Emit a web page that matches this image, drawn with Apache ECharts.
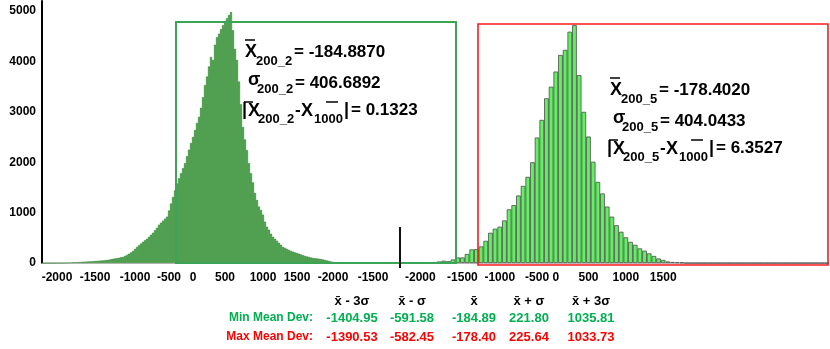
<!DOCTYPE html>
<html><head><meta charset="utf-8">
<script src="https://cdn.jsdelivr.net/npm/echarts@6/dist/echarts.min.js"></script>
<style>html,body{margin:0;padding:0;background:#fff}#c{width:830px;height:349px}</style>
</head><body><div id="c"></div>
<script>
// ---------- data ----------
const leftCounts = [
  0,0,0,0,0,0,2,3,3,5,
  4,6,8,10,12,14,15,17,20,22,
  24,25,28,30,33,36,38,42,45,48,
  52,56,60,66,74,82,90,96,104,112,
  120,140,160,185,210,240,280,320,350,385,
  420,450,480,520,560,600,650,700,760,800,
  840,880,920,1040,1180,1310,1440,1580,1680,1780,
  1880,1980,2120,2250,2380,2500,2640,2780,2900,3080,
  3290,3530,3700,3900,4090,4030,4330,4480,4550,4640,
  4720,4780,4860,4920,4980,4620,4250,4030,3600,3150,
  2700,2450,2240,1980,1780,1600,1390,1250,1120,1050,
  960,820,720,660,580,520,480,440,400,360,
  320,300,280,260,240,225,210,200,185,170,
  155,140,130,120,110,100,95,90,85,80,
  70,60,50,40,30,20,10,6,0,0,
  0,0,0,0,0,0,0,0,0,0,
  0,0,0,0,0,0,0,0,0,0,
  0,0,0,0,0,0,0,0,0,0,
  0
];
const leftTickLabels = ['-2000','-1500','-1000','-500','0','500','1000','1500','-2000','-1500'];
const leftTickBins   = [7, 26, 46, 63, 75, 91, 110, 127, 145, 165];

const rightCounts = [
  0,0,0,0,
  10,15,20,30,45,35,70,110,110,180,
  270,275,330,440,600,680,720,845,1065,1150,
  1340,1530,1710,2000,2490,2840,3270,3500,3800,4130,
  4230,4590,4720,3730,3000,2510,2010,1610,1380,1120,
  920,750,620,510,420,360,290,245,190,140,
  90,60,30,20,15,10,
  0,0,0,0,0,0,0,0,0,0,
  0,0,0,0,0,0,0,0,0,0,
  0,0,0,0,0,0,0,0,0,0,0
];
const rightTickLabels = ['-2000','-1500','-1000','-500','0','500','1000','1500'];
const rightTickBins   = [3, 12, 20, 28, 32, 39, 47, 55];

const yMin = 0, yMax = 5200, yStep = 1000;

const statHeaders = ['x\u0304 - 3\u03c3', 'x\u0304 - \u03c3', 'x\u0304', 'x\u0304 + \u03c3', 'x\u0304 + 3\u03c3'];
const rowLabels   = ['Min Mean Dev:', 'Max Mean Dev:'];
const minMeanDev  = ['-1404.95', '-591.58', '-184.89', '221.80', '1035.81'];
const maxMeanDev  = ['-1390.53', '-582.45', '-178.40', '225.64', '1033.73'];

const leftStats  = ['200_2', '-184.8870', '406.6892', '0.1323'];
const rightStats = ['200_5', '-178.4020', '404.0433', '6.3527'];
const refSub = '1000';

// ---------- helpers ----------
const FONT = '"Liberation Sans", Arial, sans-serif';
function txt(x, y, s, size, color, align) {
  return { type: 'text', x: x, y: y, z: 100, silent: true,
    style: { text: s, font: 'bold ' + size + 'px ' + FONT, fill: color || '#000',
             textAlign: align || 'left', textVerticalAlign: 'middle' } };
}
function ln(x1, y1, x2, y2, color, w) {
  return { type: 'line', z: 100, silent: true, shape: { x1: x1, y1: y1, x2: x2, y2: y2 },
           style: { stroke: color || '#000', lineWidth: w || 1.5 } };
}
function labelMap(labels, bins) {
  const m = {};
  bins.forEach((b, i) => { m[b] = labels[i]; });
  return m;
}
const leftMap = labelMap(leftTickLabels, leftTickBins);
const rightMap = labelMap(rightTickLabels, rightTickBins);

const axisLabelStyle = { color: '#000', fontWeight: 'bold', fontSize: 12, fontFamily: FONT };

// ---------- graphics (annotations) ----------
const g = [];
g.push({ type: 'rect', z: 90, silent: true, shape: { x: 176, y: 22, width: 280, height: 241 },
         style: { fill: 'none', stroke: '#3aa655', lineWidth: 2 } });
g.push({ type: 'rect', z: 90, silent: true, shape: { x: 478, y: 24, width: 350, height: 241 },
         style: { fill: 'none', stroke: '#ff1a1a', lineWidth: 1.6 } });
g.push(ln(400, 227, 400, 268, '#111', 2));

function statBlock(ox, oy, st) {
  const a = [];
  a.push(ln(ox, oy - 12, ox + 10, oy - 12));
  a.push(txt(ox, oy, 'X', 18));
  a.push(txt(ox + 11, oy + 9, st[0], 13));
  a.push(txt(ox + 49, oy, '= ' + st[1], 17));
  a.push(txt(ox + 3, oy + 28, '\u03c3', 18));
  a.push(txt(ox + 12, oy + 37, st[0], 13));
  a.push(txt(ox + 50, oy + 31, '= ' + st[2], 17));
  a.push(txt(ox - 3, oy + 58, '|', 18));
  a.push(ln(ox - 1, oy + 50, ox + 8, oy + 50));
  a.push(txt(ox + 3, oy + 59, 'X', 18));
  a.push(txt(ox + 13, oy + 67, st[0], 13));
  a.push(txt(ox + 50, oy + 58, '-', 17));
  a.push(txt(ox + 56, oy + 59, 'X', 18));
  a.push(ln(ox + 81, oy + 50, ox + 93, oy + 50));
  a.push(txt(ox + 69, oy + 67, refSub, 13));
  a.push(txt(ox + 99, oy + 58, '|', 18));
  a.push(txt(ox + 106, oy + 58, '= ' + st[3], 17));
  return a;
}
g.push(...statBlock(245, 52, leftStats));
g.push(...statBlock(610, 90, rightStats));

const colX = [352, 412, 474, 529, 591];
statHeaders.forEach((h, i) => g.push(txt(colX[i], 301, h, 13, '#000', 'center')));
g.push(txt(313, 318, rowLabels[0], 12, '#00b050', 'right'));
g.push(txt(313, 337, rowLabels[1], 12, '#ff0000', 'right'));
minMeanDev.forEach((v, i) => g.push(txt(colX[i], 318, v, 13, '#00b050', 'center')));
maxMeanDev.forEach((v, i) => g.push(txt(colX[i], 337, v, 13, '#ff0000', 'center')));

// ---------- chart ----------
const chart = echarts.init(document.getElementById('c'), null, { renderer: 'canvas' });
chart.setOption({
  animation: false,
  backgroundColor: '#fff',
  grid: [
    { left: 42, top: 1, width: 362, height: 262 },
    { left: 404, top: 1, width: 425, height: 262 }
  ],
  xAxis: [
    { type: 'category', gridIndex: 0, data: leftCounts.map((_, i) => String(i)),
      axisLine: { show: true, lineStyle: { color: '#bdbdbd', width: 1 } },
      axisTick: { show: false },
      axisLabel: Object.assign({ interval: 0, margin: 9, formatter: (v, i) => leftMap[i] || '' }, axisLabelStyle) },
    { type: 'category', gridIndex: 1, data: rightCounts.map((_, i) => String(i)),
      axisLine: { show: true, lineStyle: { color: '#bdbdbd', width: 1 } },
      axisTick: { show: false },
      axisLabel: Object.assign({ interval: 0, margin: 9, formatter: (v, i) => rightMap[i] || '' }, axisLabelStyle) }
  ],
  yAxis: [
    { type: 'value', gridIndex: 0, min: yMin, max: yMax, interval: yStep,
      axisLine: { show: true, lineStyle: { color: '#000', width: 2 } },
      axisTick: { show: false }, splitLine: { show: false },
      axisLabel: Object.assign({ margin: 6, showMaxLabel: false, formatter: v => String(v) }, axisLabelStyle) },
    { type: 'value', gridIndex: 1, min: yMin, max: yMax, interval: yStep, show: false,
      splitLine: { show: false } }
  ],
  series: [
    { type: 'bar', xAxisIndex: 0, yAxisIndex: 0, data: leftCounts, barCategoryGap: '0%',
      itemStyle: { color: '#45a845', borderColor: '#2a762a', borderWidth: 0.5 } },
    { type: 'bar', xAxisIndex: 1, yAxisIndex: 1, data: rightCounts, barCategoryGap: '0%',
      itemStyle: { color: '#62f062', borderColor: '#4d4d4d', borderWidth: 0.8 } }
  ],
  graphic: g
});
</script>
</body></html>
